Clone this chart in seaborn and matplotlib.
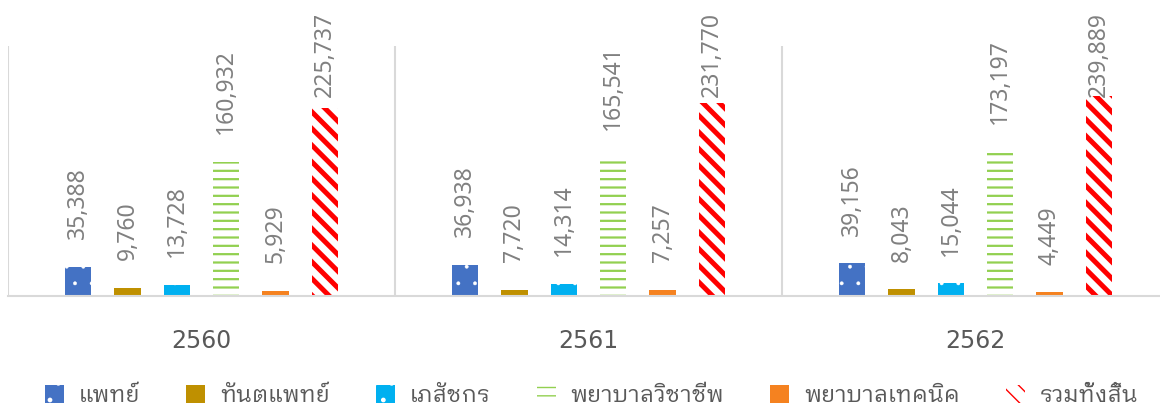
import matplotlib
matplotlib.use("Agg")
import matplotlib.pyplot as plt
from matplotlib import font_manager as fm
import seaborn as sns
import pandas as pd

# ---- data ----
years = ["2560", "2561", "2562"]
series_names = ["แพทย์", "ทันตแพทย์", "เภสัชกร", "พยาบาลวิชาชีพ", "พยาบาลเทคนิค", "รวมทั้งสิ้น"]
doctor = [35388, 36938, 39156]
dentist = [9760, 7720, 8043]
pharmacist = [13728, 14314, 15044]
prof_nurse = [160932, 165541, 173197]
tech_nurse = [5929, 7257, 4449]
total = [225737, 231770, 239889]

available = {f.name for f in fm.fontManager.ttflist}
pref = ["IBM Plex Sans Thai Looped", "Noto Sans Thai Looped", "Sarabun", "Noto Sans Thai", "Loma", "Waree"]
thai = next((p for p in pref if p in available), "DejaVu Sans")

sns.set_style("white")
plt.rcParams["font.family"] = ["Noto Sans", thai, "DejaVu Sans"]

fig = plt.figure(figsize=(11.6, 4.09), dpi=100)
ax = fig.add_axes([8 / 1160, 1 - 296 / 409, 1161 / 1160, 250 / 409])

values = [doctor, dentist, pharmacist, prof_nurse, tech_nurse, total]
rows = []
for name, vals in zip(series_names, values):
    for y, v in zip(years, vals):
        rows.append({"year": y, "type": name, "value": v})
df = pd.DataFrame(rows)

colors = ["#4472C4", "#BF9000", "#00B0F0", "#92D050", "#F58220", "#FF0000"]
sns.barplot(data=df, x="year", y="value", hue="type", hue_order=series_names,
            palette=colors, width=0.765, gap=0.47, ax=ax, legend=False, saturation=1)

styles = [
    dict(face="#4472C4", hatch=".", hc="white", hlw=0.3),
    dict(face="#BF9000", hatch=None, hc=None, hlw=1.0),
    dict(face="#00B0F0", hatch=".", hc="white", hlw=0.3),
    dict(face="white", hatch="--", hc="#92D050", hlw=1.6),
    dict(face="#F58220", hatch=None, hc=None, hlw=1.0),
    dict(face="white", hatch="\\\\", hc="#FF0000", hlw=3.6),
]
for cont, st in zip(ax.containers, styles):
    for p in cont.patches:
        p.set_facecolor(st["face"])
        p.set_linewidth(0)
        if st["hatch"]:
            p.set_edgecolor(st["hc"])
            p.set_hatch(st["hatch"])
            if hasattr(p, "set_hatch_linewidth"):
                p.set_hatch_linewidth(st["hlw"])

ax.set_ylim(0, 300000)
ax.set_xlim(-0.5, 2.5)
ax.set_xlabel("")
ax.set_ylabel("")
ax.set_yticks([])
for s in ["top", "left", "right"]:
    ax.spines[s].set_visible(False)
ax.spines["bottom"].set_color("#d9d9d9")
ax.spines["bottom"].set_linewidth(1.5)
ax.set_xticks([-0.5, 0.5, 1.5, 2.5], minor=True)
ax.grid(True, which="minor", axis="x", color="#d9d9d9", linewidth=1.5)
ax.tick_params(axis="x", which="both", length=0)
ax.tick_params(axis="x", which="major", pad=24, labelsize=17, labelcolor="#595959")
for t in ax.get_xticklabels():
    t.set_fontfamily(["DejaVu Sans"])

anns = []
for cont in ax.containers:
    for p in cont.patches:
        h = p.get_height()
        a = ax.annotate(f"{h:,.0f}", (p.get_x() + p.get_width() / 2, h),
                        xytext=(0, 20), textcoords="offset points",
                        rotation=90, ha="center", va="bottom",
                        fontsize=16.5, color="#808080", annotation_clip=False)
        anns.append(a)

leg = ax.legend(handles=[c for c in ax.containers], labels=series_names,
                loc="center", bbox_to_anchor=(591.5 / 1160, 1 - 396 / 409), bbox_transform=fig.transFigure,
                ncol=6, frameon=False, fontsize=16.5, handlelength=0.83, handleheight=0.83,
                columnspacing=2.0, handletextpad=0.65, labelcolor="#595959",
                borderpad=0, borderaxespad=0)

fig.canvas.draw()
r = fig.canvas.get_renderer()
limit = fig.bbox.height - 12
for a in anns:
    bb = a.get_window_extent(r)
    if bb.y1 > limit:
        dx, dy = a.xyann
        a.xyann = (dx, dy - (bb.y1 - limit) * 72 / fig.dpi)

fig.savefig("out.png", dpi=100)
